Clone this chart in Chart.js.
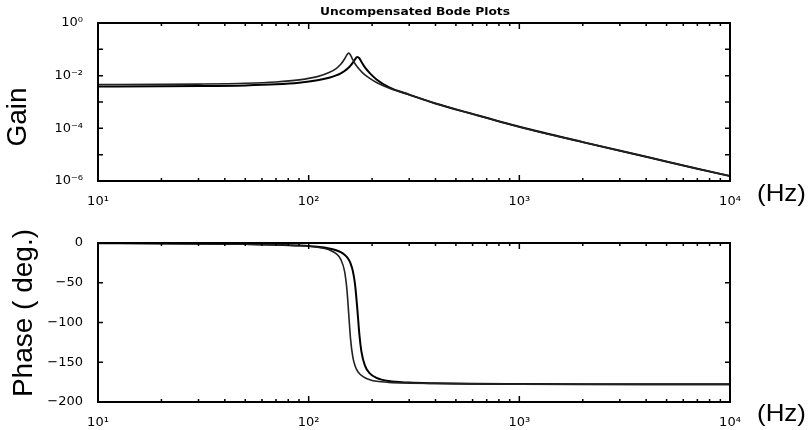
<!DOCTYPE html>
<html>
<head>
<meta charset="utf-8">
<title>Uncompensated Bode Plots</title>
<script src="https://cdn.jsdelivr.net/npm/chart.js@4.4.1/dist/chart.umd.min.js"></script>
<style>
  html, body { margin: 0; padding: 0; background: #fff; }
  #wrap { position: relative; width: 812px; height: 430px; overflow: hidden;
          font-family: "Liberation Sans", Arial, Helvetica, sans-serif; color: #000; }
  .panel { position: absolute; left: 0; width: 812px; height: 215px; }
  .lbl { position: absolute; white-space: nowrap; line-height: 1; }
  .rot { transform: translate(-50%, -50%) rotate(-90deg); }
  #title { left: 415px; top: 11px; font: bold 10.5px "DejaVu Sans", sans-serif;
           transform: translate(-50%, -50%) scaleX(1.17); }
  .big { font-size: 28px; }
  .hz { font-size: 24px; left: 757px; transform-origin: left center;
        transform: translateY(-50%) scaleX(1.08); }
</style>
</head>
<body>
<div id="wrap">
  <div class="panel" style="top:0"><canvas id="chart-gain" width="812" height="215"></canvas></div>
  <div class="panel" style="top:215px"><canvas id="chart-phase" width="812" height="215"></canvas></div>

  <div class="lbl" id="title">Uncompensated Bode Plots</div>
  <div class="lbl big rot" style="left:17px; top:117px">Gain</div>
  <div class="lbl big rot" style="left:23px; top:313px">Phase ( deg.)</div>
  <div class="lbl hz" style="top:193px">(Hz)</div>
  <div class="lbl hz" style="top:413px">(Hz)</div>
</div>

<script>
/* ── Data ───────────────────────────────────────────────── */
const freqHz = [10, 20, 30, 50, 70, 90, 110, 125, 135, 142, 148, 152, 155, 158, 162,
                166, 170, 174, 178, 185, 195, 210, 240, 300, 400, 600, 1000, 2000,
                4000, 7000, 10000];

// lower-frequency resonance (thin curve)
const gainA = [0.00462, 0.00468, 0.00478, 0.00513, 0.00578, 0.00694, 0.0092, 0.0131,
               0.0186, 0.0269, 0.0428, 0.0626, 0.0719, 0.0604, 0.0403, 0.0284, 0.0220,
               0.0174, 0.0142, 0.0108, 0.0079, 0.0055, 0.0034, 0.0019, 0.00088, 0.00035,
               0.000113, 3.0e-5, 8.3e-6, 2.9e-6, 1.55e-6];
// higher-frequency resonance (heavy curve)
const gainB = [0.00391, 0.00395, 0.00402, 0.00426, 0.00469, 0.00539, 0.00665, 0.00832,
               0.0102, 0.0123, 0.0150, 0.0177, 0.0204, 0.0240, 0.0311, 0.0417, 0.0510,
               0.0459, 0.0339, 0.0206, 0.0125, 0.0072, 0.0037, 0.0019, 0.00088, 0.00035,
               0.000115, 3.0e-5, 8.3e-6, 2.9e-6, 1.55e-6];

const phaseA = [-0.2, -0.5, -0.8, -1.4, -2.1, -3.3, -5.4, -8.6, -13.4, -20.6, -35.5, -59.4,
                -90, -120.2, -143.3, -154.3, -160.4, -164.1, -166.6, -169.5, -171.9, -173.9,
                -175.3, -176.2, -176.8, -177.2, -177.5, -177.7, -177.8, -177.8, -177.8];
const phaseB = [-0.3, -0.5, -0.8, -1.4, -2.1, -3.2, -4.8, -6.8, -9.1, -11.5, -14.7, -17.9,
                -21.1, -25.6, -35.1, -52.0, -81.3, -114.5, -136.6, -154.3, -163.9, -169.6,
                -173.7, -175.6, -176.5, -177.2, -177.5, -177.7, -177.8, -177.8, -177.8];

/* ── Tick values and labels ─────────────────────────────── */
const freqDecades     = [10, 100, 1000, 10000];
const freqTickLabels  = ['10\u00B9', '10\u00B2', '10\u00B3', '10\u2074'];
const gainTicks       = [1, 1e-1, 1e-2, 1e-3, 1e-4, 1e-5, 1e-6];
const gainTickLabels  = ['10\u2070', '', '10\u207B\u00B2', '', '10\u207B\u2074', '', '10\u207B\u2076'];
const phaseTicks      = [0, -50, -100, -150, -200];
const phaseTickLabels = ['0', '\u221250', '\u2212100', '\u2212150', '\u2212200'];

const FONT = { family: '"DejaVu Sans", sans-serif', size: 13 };

/* ── Helpers ────────────────────────────────────────────── */
function xy(ys) {
  return freqHz.map((f, i) => ({ x: f, y: ys[i] }));
}

function isDecade(v) {
  const l = Math.log10(v);
  return Math.abs(l - Math.round(l)) < 1e-9;
}

// 1..9 x each decade, up to the last decade
function freqTickValues() {
  const out = [];
  freqDecades.forEach((d, i) => {
    if (i === freqDecades.length - 1) { out.push(d); return; }
    for (let m = 1; m <= 9; m++) out.push(d * m);
  });
  return out;
}

/* ── Frame + inward tick marks, matlab style ────────────── */
const frameTicks = {
  id: 'frameTicks',
  afterDatasetsDraw(chart) {
    const { ctx, chartArea: a, scales } = chart;
    ctx.save();
    ctx.strokeStyle = '#000';
    ctx.lineWidth = 1.5;
    ctx.beginPath();
    scales.x.ticks.forEach(t => {
      const px = scales.x.getPixelForValue(t.value);
      const len = isDecade(t.value) ? 6 : 3;
      ctx.moveTo(px, a.bottom); ctx.lineTo(px, a.bottom - len);
      ctx.moveTo(px, a.top);    ctx.lineTo(px, a.top + len);
    });
    scales.y.ticks.forEach(t => {
      const py = scales.y.getPixelForValue(t.value);
      ctx.moveTo(a.left, py);  ctx.lineTo(a.left + 5, py);
      ctx.moveTo(a.right, py); ctx.lineTo(a.right - 5, py);
    });
    ctx.stroke();
    ctx.lineWidth = 2;
    ctx.strokeRect(a.left, a.top, a.right - a.left, a.bottom - a.top);
    ctx.restore();
  }
};

function xScale(bandHeight) {
  return {
    type: 'logarithmic',
    min: freqDecades[0],
    max: freqDecades[freqDecades.length - 1],
    grid: { display: false },
    border: { display: false },
    afterBuildTicks: s => { s.ticks = freqTickValues().map(v => ({ value: v })); },
    afterFit: s => { s.height = bandHeight; s.paddingLeft = 0; s.paddingRight = 0; },
    ticks: {
      autoSkip: false, maxRotation: 0, padding: 5, color: '#000', font: FONT,
      callback: v => {
        const i = freqDecades.indexOf(v);
        return i >= 0 ? freqTickLabels[i] : '';
      }
    }
  };
}

function yScale(type, ticks, labels, extra) {
  return Object.assign({
    type,
    grid: { display: false },
    border: { display: false },
    afterBuildTicks: s => { s.ticks = ticks.map(v => ({ value: v })); },
    afterFit: s => { s.width = 98; s.paddingTop = 0; s.paddingBottom = 0; },
    ticks: {
      autoSkip: false, padding: 7, color: '#000', font: FONT,
      callback: (v, i) => labels[i]
    }
  }, extra);
}

function lineSet(data, color, width) {
  return {
    data, borderColor: color, borderWidth: width,
    pointRadius: 0, fill: false, cubicInterpolationMode: 'monotone'
  };
}

const common = {
  responsive: false,
  animation: false,
  devicePixelRatio: 1,
  plugins: { legend: { display: false }, tooltip: { enabled: false }, title: { display: false } }
};

/* ── Gain ───────────────────────────────────────────────── */
new Chart(document.getElementById('chart-gain'), {
  type: 'line',
  data: { datasets: [lineSet(xy(gainA), '#222', 1.6), lineSet(xy(gainB), '#000', 2)] },
  options: Object.assign({}, common, {
    layout: { padding: { left: 0, right: 82, top: 23, bottom: 0 } },
    scales: {
      x: xScale(34),
      y: yScale('logarithmic', gainTicks, gainTickLabels, { min: 1e-6, max: 1 })
    }
  }),
  plugins: [frameTicks]
});

/* ── Phase ──────────────────────────────────────────────── */
new Chart(document.getElementById('chart-phase'), {
  type: 'line',
  data: { datasets: [lineSet(xy(phaseA), '#222', 1.6), lineSet(xy(phaseB), '#000', 2)] },
  options: Object.assign({}, common, {
    layout: { padding: { left: 0, right: 82, top: 28, bottom: 0 } },
    scales: {
      x: xScale(28),
      y: yScale('linear', phaseTicks, phaseTickLabels, { min: -200, max: 0 })
    }
  }),
  plugins: [frameTicks]
});
</script>
</body>
</html>
